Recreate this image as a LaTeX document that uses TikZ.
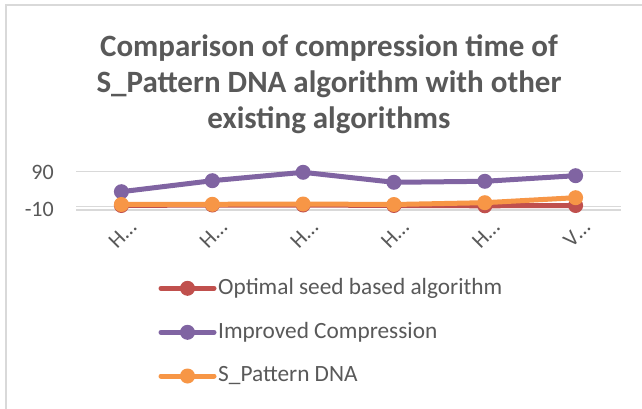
\documentclass[tikz,border=0pt]{standalone}
\usepackage{fontspec}
\setmainfont{Carlito}
\definecolor{txt}{HTML}{595959}
\definecolor{grid}{HTML}{D9D9D9}
\definecolor{sred}{HTML}{C0504D}
\definecolor{spur}{HTML}{8064A2}
\definecolor{sora}{HTML}{F79646}
\tikzset{
  gridline/.style={draw=grid, line width=1.5pt},
  series/.style={line width=5pt, line join=round, line cap=round},
  mk/.style={circle, inner sep=0pt, minimum size=15pt},
  ticklbl/.style={text=txt, font=\fontsize{22}{24}\selectfont, rotate=45, inner sep=0pt},
  vallbl/.style={text=txt, font=\fontsize{22}{24}\selectfont, anchor=east, inner sep=0pt},
  leglbl/.style={text=txt, font=\fontsize{23.3}{26}\selectfont, anchor=west, inner sep=0pt},
}
\begin{document}
\begin{tikzpicture}[x=1pt,y=-1pt]
\useasboundingbox[fill=white] (0,0) rectangle (642,409);
% frame
\draw[draw=grid, line width=2pt] (6,409) -- (6,5.5) -- (642,5.5);
% title
\node[text=txt, font=\bfseries\fontsize{31}{36}\selectfont, align=center] (title) at (329,84)
  {Comparison of compression time of\\S\_Pattern DNA algorithm with other\\existing algorithms};
% grid
\coordinate (g90l) at (76,171.7); \coordinate (g90r) at (621,171.7);
\coordinate (gm10l) at (76,210); \coordinate (gm10r) at (621,210);
\coordinate (axl) at (76,206.5); \coordinate (axr) at (621,206.5);
\draw[gridline] (g90l) -- (g90r);
\draw[gridline] (gm10l) -- (gm10r);
\draw[gridline] (axl) -- (axr);
\node[vallbl] (v90) at (54,172) {90};
\node[vallbl] (vm10) at (54,209) {-10};
% tick labels
\foreach \x/\t [count=\i] in {121.4/H…,212.3/H…,303.1/H…,393.9/H…,484.8/H…,575.6/V…}{
  \node[ticklbl] (t\i) at (\x+1,234) {\t};
}
% series
\foreach \x/\y [count=\i] in {121.4/205.5,212.3/205,303.1/205,393.9/205.5,484.8/205.8,575.6/205.5}{
  \coordinate (r\i) at (\x,\y);
}
\foreach \x/\y [count=\i] in {121.4/191.7,212.3/180.7,303.1/172.3,393.9/182.3,484.8/181.3,575.6/175.7}{
  \coordinate (p\i) at (\x,\y);
}
\foreach \x/\y [count=\i] in {121.4/204.5,212.3/204.3,303.1/204,393.9/204.5,484.8/202.7,575.6/197.7}{
  \coordinate (o\i) at (\x,\y);
}
\draw[series, sred] (r1) -- (r2) -- (r3) -- (r4) -- (r5) -- (r6);
\foreach \i in {1,...,6}{\node[mk, fill=sred] (rm\i) at (r\i) {};}
\draw[series, spur] (p1) -- (p2) -- (p3) -- (p4) -- (p5) -- (p6);
\foreach \i in {1,...,6}{\node[mk, fill=spur] (pm\i) at (p\i) {};}
\draw[series, sora] (o1) -- (o2) -- (o3) -- (o4) -- (o5) -- (o6);
\foreach \i in {1,...,6}{\node[mk, fill=sora] (om\i) at (o\i) {};}
% legend
\coordinate (la1) at (161,288.3); \coordinate (lb1) at (214,288.3);
\coordinate (la2) at (161,332.3); \coordinate (lb2) at (214,332.3);
\coordinate (la3) at (161,376); \coordinate (lb3) at (214,376);
\draw[series, sred] (la1) -- (lb1); \node[mk, fill=sred] (lm1) at (187.5,288.3) {};
\draw[series, spur] (la2) -- (lb2); \node[mk, fill=spur] (lm2) at (187.5,332.3) {};
\draw[series, sora] (la3) -- (lb3); \node[mk, fill=sora] (lm3) at (187.5,376) {};
\node[leglbl] (l1) at (218,288.3) {Optimal seed based algorithm};
\node[leglbl] (l2) at (218,332.3) {Improved Compression};
\node[leglbl] (l3) at (218,376) {S\_Pattern DNA};
\end{tikzpicture}
\end{document}
